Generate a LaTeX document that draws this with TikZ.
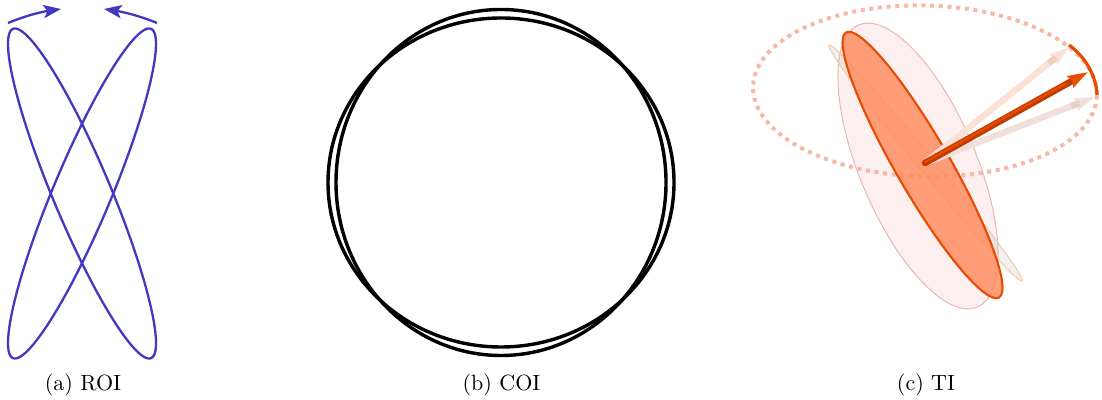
\documentclass[tikz,border=0pt]{standalone}
\usetikzlibrary{arrows.meta,bending,calc}
\definecolor{roi}{HTML}{4338C0}
\definecolor{ti}{HTML}{E84A00}
\definecolor{tidark}{HTML}{C23C00}
\definecolor{tidot}{HTML}{F7B8A4}
\definecolor{tifill}{HTML}{FF8A5C}
\definecolor{palefill}{HTML}{F5D5D8}
\definecolor{paleline}{HTML}{E8B8B0}
\definecolor{thinline}{HTML}{F5C8A0}
\definecolor{arrowA}{HTML}{FBE0D6}
\definecolor{arrowAd}{HTML}{F5CDBD}
\definecolor{arrowB}{HTML}{F0E0D9}
\definecolor{arrowBd}{HTML}{E8CFC4}
\tikzset{
  x=0.4537pt,y=-0.4537pt,
  roiline/.style={draw=roi,line width=1.05pt},
  roiarrow/.style={draw=roi,line width=1.05pt,-{Stealth[length=8pt,width=6pt,inset=1.8pt]}},
  coiline/.style={draw=black,line width=1.55pt},
  captext/.style={font=\normalsize,anchor=base,inner sep=0pt},
  dotring/.style={draw=tidot,line width=1.8pt,dash pattern=on 1.85pt off 2.1pt},
  solidell/.style={draw=ti,line width=0.95pt,fill=tifill,fill opacity=0.82},
  paleell/.style={draw=paleline,line width=0.45pt,fill=palefill,fill opacity=0.38},
  thinell/.style={draw=thinline,line width=0.45pt,fill=black!40,fill opacity=0.15},
  mainarrow/.style={draw=tidark,line width=3pt,line cap=round,-{Stealth[length=9pt,width=5.6pt,inset=1pt,color=ti!90!orange]}},
  ghostA/.style={draw=arrowA,line width=2.9pt,-{Stealth[length=9pt,width=5.4pt,inset=1pt]}},
  ghostB/.style={draw=arrowB,line width=2.9pt,-{Stealth[length=9pt,width=5.4pt,inset=1pt]}},
}
\begin{document}
\begin{tikzpicture}
\useasboundingbox (0,0) rectangle (1102,400);
% ROI
\draw[roiline,samples=180,domain=0:360,smooth,variable=\t] plot ({82-74*cos(\t)},{193.5-165*cos(\t+25)}) -- cycle;
\draw[roiline,samples=180,domain=0:360,smooth,variable=\t] plot ({82+74*cos(\t)},{193.5-165*cos(\t+25)}) -- cycle;
\coordinate (a1) at (8,23); \coordinate (a2) at (61,9);
\coordinate (b1) at (157,23); \coordinate (b2) at (104,9);
\draw[roiarrow] (a1) .. controls (25,16) and (42,11) .. (a2);
\draw[roiarrow] (b1) .. controls (140,16) and (122,11) .. (b2);
% COI
\draw[coiline] (501,182.5) ellipse [x radius=173,y radius=164.5];
\draw[coiline] (501,182.5) ellipse [x radius=165,y radius=173];
% TI
\draw[paleell] (918,166) ellipse [x radius=153,y radius=58.4,rotate=-67.2];
\draw[thinell] (925.5,163) ellipse [x radius=152.5,y radius=8,rotate=-50.7];
\draw[dotring] (925,91) ellipse [x radius=172,y radius=85.5,rotate=-1.5];
\coordinate (o) at (925,163);
\coordinate (p1) at (1069,47); \coordinate (p2) at (1095,97); \coordinate (p) at (1088,72);
\draw[solidell] (922.5,165) ellipse [x radius=153,y radius=27,rotate=-60];
\draw[ghostA] (o) -- (p1);
\draw[ghostB] (o) -- (p2);
\draw[draw=arrowAd,line width=2.9pt] ($(o)!0.86!(p1)$) -- ($(o)!0.91!(p1)$);
\draw[draw=arrowBd,line width=2.9pt] ($(o)!0.86!(p2)$) -- ($(o)!0.91!(p2)$);
\draw[draw=ti,line width=1.45pt] (1069,45) .. controls (1084,56) and (1096,74) .. (1097,95);
\draw[mainarrow] (o) -- (p);
\draw[draw=ti,line width=1pt,line cap=round] ($(o)+(1,-1.5)$) -- ($(o)!0.86!(p)+(1,-1.5)$);
% captions
\node[captext] (c1) at (83,391) {(a) ROI};
\node[captext] (c2) at (501.5,391) {(b) COI};
\node[captext] (c3) at (926,391) {(c) TI};
\end{tikzpicture}
\end{document}
